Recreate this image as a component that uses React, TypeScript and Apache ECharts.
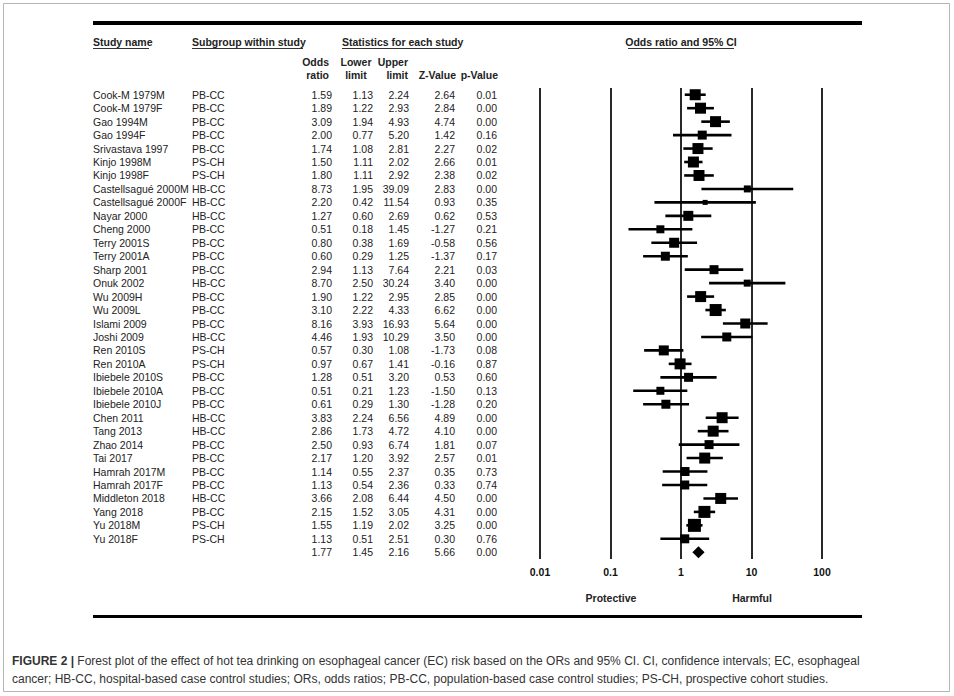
import React, { useEffect, useRef } from "react";
import * as echarts from "echarts";

const studies = [
  "Cook-M 1979M", "Cook-M 1979F", "Gao 1994M", "Gao 1994F", "Srivastava 1997",
  "Kinjo 1998M", "Kinjo 1998F", "Castellsagué 2000M", "Castellsagué 2000F", "Nayar 2000",
  "Cheng 2000", "Terry 2001S", "Terry 2001A", "Sharp 2001", "Onuk 2002",
  "Wu 2009H", "Wu 2009L", "Islami 2009", "Joshi 2009", "Ren 2010S",
  "Ren 2010A", "Ibiebele 2010S", "Ibiebele 2010A", "Ibiebele 2010J", "Chen 2011",
  "Tang 2013", "Zhao 2014", "Tai 2017", "Hamrah 2017M", "Hamrah 2017F",
  "Middleton 2018", "Yang 2018", "Yu 2018M", "Yu 2018F",
];
const subgroups = [
  "PB-CC", "PB-CC", "PB-CC", "PB-CC", "PB-CC",
  "PS-CH", "PS-CH", "HB-CC", "HB-CC", "HB-CC",
  "PB-CC", "PB-CC", "PB-CC", "PB-CC", "HB-CC",
  "PB-CC", "PB-CC", "PB-CC", "HB-CC", "PS-CH",
  "PS-CH", "PB-CC", "PB-CC", "PB-CC", "HB-CC",
  "HB-CC", "PB-CC", "PB-CC", "PB-CC", "PB-CC",
  "HB-CC", "PB-CC", "PS-CH", "PS-CH",
];
const oddsRatio = [1.59, 1.89, 3.09, 2.0, 1.74, 1.5, 1.8, 8.73, 2.2, 1.27, 0.51, 0.8, 0.6, 2.94, 8.7, 1.9, 3.1, 8.16, 4.46, 0.57, 0.97, 1.28, 0.51, 0.61, 3.83, 2.86, 2.5, 2.17, 1.14, 1.13, 3.66, 2.15, 1.55, 1.13];
const lowerLimit = [1.13, 1.22, 1.94, 0.77, 1.08, 1.11, 1.11, 1.95, 0.42, 0.6, 0.18, 0.38, 0.29, 1.13, 2.5, 1.22, 2.22, 3.93, 1.93, 0.3, 0.67, 0.51, 0.21, 0.29, 2.24, 1.73, 0.93, 1.2, 0.55, 0.54, 2.08, 1.52, 1.19, 0.51];
const upperLimit = [2.24, 2.93, 4.93, 5.2, 2.81, 2.02, 2.92, 39.09, 11.54, 2.69, 1.45, 1.69, 1.25, 7.64, 30.24, 2.95, 4.33, 16.93, 10.29, 1.08, 1.41, 3.2, 1.23, 1.3, 6.56, 4.72, 6.74, 3.92, 2.37, 2.36, 6.44, 3.05, 2.02, 2.51];
const zValue = [2.64, 2.84, 4.74, 1.42, 2.27, 2.66, 2.38, 2.83, 0.93, 0.62, -1.27, -0.58, -1.37, 2.21, 3.4, 2.85, 6.62, 5.64, 3.5, -1.73, -0.16, 0.53, -1.5, -1.28, 4.89, 4.1, 1.81, 2.57, 0.35, 0.33, 4.5, 4.31, 3.25, 0.3];
const pValue = [0.01, 0.0, 0.0, 0.16, 0.02, 0.01, 0.02, 0.0, 0.35, 0.53, 0.21, 0.56, 0.17, 0.03, 0.0, 0.0, 0.0, 0.0, 0.0, 0.08, 0.87, 0.6, 0.13, 0.2, 0.0, 0.0, 0.07, 0.01, 0.73, 0.74, 0.0, 0.0, 0.0, 0.76];
// relative study weight, shown as marker size
const weightSize = [11, 11, 11, 9, 11, 11, 11, 7, 5, 10, 8, 10, 9, 9, 7, 11, 12, 10, 9, 10, 11, 9, 8, 9, 11, 11, 9, 11, 9, 9, 11, 12, 13, 9];
// pooled: OR, lower, upper, Z, p
const summary = [1.77, 1.45, 2.16, 5.66, 0.0];
const xTicks = [0.01, 0.1, 1, 10, 100];

const FONT = "'Liberation Sans', Arial, sans-serif";

export default function App() {
  const ref = useRef<HTMLDivElement>(null);
  useEffect(() => {
    const chart = echarts.init(ref.current!, null, { renderer: "svg" });
    const f2 = (v: number) => v.toFixed(2);
    const cols: string[][] = [
      [...studies, ""],
      [...subgroups, ""],
      [...oddsRatio, summary[0]].map(f2),
      [...lowerLimit, summary[1]].map(f2),
      [...upperLimit, summary[2]].map(f2),
      [...zValue, summary[3]].map(f2),
      [...pValue, summary[4]].map(f2),
    ];
    const n = cols[0].length;
    const cats = cols[0].map((_, i) => String(i));
    const colOffsets = [447, 348, 208, 167, 131, 85, 43];
    const colAlign = ["left", "left", "right", "right", "right", "right", "right"];
    const yAxes = cols.map((col, k) => ({
      type: "category",
      data: cats,
      inverse: true,
      position: "left",
      offset: colOffsets[k],
      axisLine: { show: false },
      axisTick: { show: false },
      splitLine: { show: false },
      axisLabel: {
        interval: 0,
        margin: 0,
        align: colAlign[k],
        fontFamily: FONT,
        fontSize: 10.5,
        color: "#222",
        formatter: (_v: string, i: number) => col[i],
      },
    }));
    const data = studies.map((_, i) => [oddsRatio[i], i, lowerLimit[i], upperLimit[i], weightSize[i], 0]);
    data.push([summary[0], n - 1, summary[1], summary[2], 0, 1]);

    const hdr = (text: string, x: number, y: number, align = "left") => ({
      type: "text",
      x,
      y,
      style: { text, fontFamily: FONT, fontSize: 10.5, fontWeight: "bold", fill: "#222", textAlign: align, textVerticalAlign: "middle" },
    });
    const uline = (x1: number, x2: number, y: number) => ({
      type: "line",
      shape: { x1, y1: y, x2, y2: y },
      style: { stroke: "#333", lineWidth: 1.2 },
    });

    chart.setOption({
      animation: false,
      backgroundColor: "#fff",
      grid: { left: 540, right: 132, top: 88, bottom: 137 },
      xAxis: {
        type: "log",
        logBase: 10,
        min: xTicks[0],
        max: xTicks[xTicks.length - 1],
        axisLine: { show: false },
        axisTick: { show: false },
        splitLine: { show: true, lineStyle: { color: "#111", width: 1.8 } },
        axisLabel: {
          fontFamily: FONT,
          fontSize: 10.5,
          fontWeight: "bold",
          color: "#111",
          margin: 7,
          formatter: (v: number) => String(+Number(v).toPrecision(3)),
        },
      },
      yAxis: yAxes,
      series: [
        {
          type: "custom",
          yAxisIndex: 0,
          data,
          encode: { x: 0, y: 1 },
          renderItem: (_p: any, api: any) => {
            const x = api.value(0);
            const y = api.value(1);
            const lo = api.value(2);
            const hi = api.value(3);
            const s = api.value(4);
            const isSum = api.value(5);
            const c = api.coord([x, y]);
            const a = api.coord([lo, y]);
            const b = api.coord([hi, y]);
            if (isSum) {
              return {
                type: "polygon",
                shape: { points: [[a[0], c[1]], [c[0], c[1] - 6], [b[0], c[1]], [c[0], c[1] + 6]] },
                style: { fill: "#000" },
              };
            }
            return {
              type: "group",
              children: [
                { type: "line", shape: { x1: a[0], y1: c[1], x2: b[0], y2: c[1] }, style: { stroke: "#000", lineWidth: 2.6 } },
                { type: "rect", shape: { x: c[0] - s / 2, y: c[1] - s / 2, width: s, height: s }, style: { fill: "#000" } },
              ],
            };
          },
        },
      ],
      graphic: [
        { type: "rect", shape: { x: 3.5, y: 3.5, width: 946, height: 688 }, style: { fill: "none", stroke: "#b5b5b5", lineWidth: 1 } },
        { type: "rect", shape: { x: 93, y: 21, width: 769, height: 4 }, style: { fill: "#000" } },
        { type: "rect", shape: { x: 93, y: 615, width: 769, height: 3 }, style: { fill: "#000" } },
        hdr("Study name", 93, 42),
        uline(93, 149, 48.5),
        hdr("Subgroup within study", 192, 42),
        uline(192, 303, 48.5),
        hdr("Statistics for each study", 342, 42),
        uline(342, 459, 48.5),
        hdr("Odds ratio and 95% CI", 681, 42, "center"),
        uline(628, 734, 48.5),
        hdr("Odds", 329, 62, "right"),
        hdr("ratio", 329, 75, "right"),
        hdr("Lower", 356, 62, "center"),
        hdr("limit", 356, 75, "center"),
        hdr("Upper", 408, 62, "right"),
        hdr("limit", 408, 75, "right"),
        hdr("Z-Value", 456, 75, "right"),
        hdr("p-Value", 498, 75, "right"),
        hdr("Protective", 611, 598, "center"),
        hdr("Harmful", 752, 598, "center"),
        {
          type: "text",
          x: 12,
          y: 652,
          style: {
            text:
              "{b|FIGURE 2 |} Forest plot of the effect of hot tea drinking on esophageal cancer (EC) risk based on the ORs and 95% CI. CI, confidence intervals; EC, esophageal\ncancer; HB-CC, hospital-based case control studies; ORs, odds ratios; PB-CC, population-based case control studies; PS-CH, prospective cohort studies.",
            fontFamily: FONT,
            fontSize: 12,
            fill: "#333",
            lineHeight: 18,
            textVerticalAlign: "top",
            rich: { b: { fontFamily: FONT, fontSize: 12, fontWeight: "bold", fill: "#333", lineHeight: 18 } },
          },
        },
      ],
    });
    return () => chart.dispose();
  }, []);
  return <div ref={ref} style={{ position: "absolute", left: 0, top: 0, width: 954, height: 696, background: "#fff" }} />;
}
